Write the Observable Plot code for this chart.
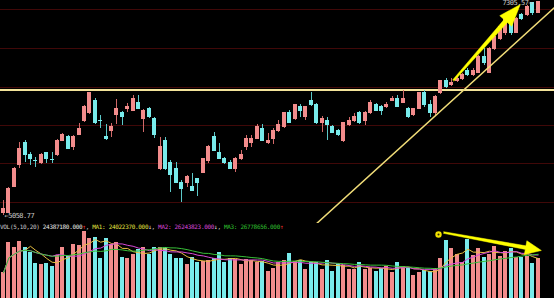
<!DOCTYPE html>
<html><head><meta charset="utf-8">
<script src="https://cdn.jsdelivr.net/npm/d3@7"></script>
<script src="https://cdn.jsdelivr.net/npm/@observablehq/plot@0.6"></script>
<style>
html,body{margin:0;padding:0;background:#000;}
#wrap{position:relative;width:554px;height:298px;overflow:hidden;background:#000;}
#wrap svg{display:block;}
#wrap svg rect, #wrap svg line{shape-rendering:crispEdges;}
#price text{letter-spacing:-0.5px;}
#hdr{position:absolute;left:0px;top:223px;height:8px;line-height:8px;font-size:6px;font-family:"DejaVu Sans Mono",monospace;letter-spacing:-0.32px;white-space:pre;color:#c8c8c8;}
</style></head><body>
<div id="wrap"><div id="price"></div><div id="vol"></div><div id="hdr"></div></div>
<script>
// ---- data ----
const opens = [5080,5090,5363,5584,5815,5699,5636,5605,5710,5641,5689,5846,5888,5773,5909,6046,6130,6266,6051,5888,5941,6119,6140,6172,6161,6245,6077,6172,6067,5552,5846,5605,5542,5405,5405,5353,5437,5510,5636,5888,5720,5657,5605,5552,5647,5783,5825,5867,5972,5815,5867,5941,5983,6140,6077,6203,6088,6256,6224,6025,6056,5983,5941,5846,6004,6056,6140,6046,6130,6224,6193,6193,6266,6287,6245,6182,6109,6182,6350,6214,6130,6340,6476,6424,6466,6497,6581,6529,6560,6718,6560,6812,6917,6970,7127,6980,7159,7159,7285,7190];
const closes = [5132,5342,5552,5762,5689,5657,5636,5699,5647,5641,5846,5909,5762,5888,5972,6203,6340,6025,6051,5857,5993,6172,6088,6203,6287,6182,6161,6088,5909,5783,5552,5489,5405,5332,5468,5321,5405,5647,5773,5741,5657,5605,5552,5657,5699,5867,5857,5993,5846,5846,5951,6014,6130,6035,6214,6151,6193,6214,6025,6077,6014,5930,5899,6025,6056,6098,6035,6140,6245,6161,6161,6214,6287,6203,6287,6088,6172,6340,6214,6130,6298,6466,6403,6455,6497,6529,6529,6581,6718,6665,6812,6938,7043,7138,6970,7117,7127,7243,7180,7300];
const highs = [5216,5353,5563,5825,5846,5720,5668,5710,5720,5720,5857,5920,5899,5899,6025,6214,6350,6287,6109,6014,6025,6277,6151,6235,6319,6319,6172,6193,6088,5878,5878,5636,5615,5426,5479,5500,5447,5657,5794,5930,5815,5668,5636,5668,5741,5899,5899,6014,6014,5920,5972,6056,6140,6161,6224,6224,6203,6350,6235,6098,6088,6004,5962,6035,6088,6130,6151,6151,6266,6235,6214,6245,6308,6319,6371,6193,6182,6350,6371,6266,6319,6476,6497,6497,6529,6550,6602,6602,6739,6812,6823,6959,7064,7159,7159,7138,7180,7264,7295,7305.57];
const lows = [5058.77,5080,5353,5552,5615,5584,5563,5594,5605,5605,5678,5836,5752,5741,5899,6035,6119,6014,5972,5846,5878,6014,6004,6140,6151,6172,5930,6077,5867,5531,5531,5300,5395,5195,5353,5321,5258,5500,5605,5731,5647,5594,5552,5510,5636,5741,5773,5857,5836,5804,5804,5930,5972,6025,6056,6088,6056,6203,6014,5930,5846,5920,5888,5825,5993,6035,6014,6004,6119,6151,6109,6182,6256,6193,6235,6077,6098,6172,6193,6088,6109,6329,6392,6413,6455,6476,6518,6518,6550,6634,6550,6791,6896,6949,6949,6970,7106,7148,7159,7180];
// volume in millions of shares
const volumes = [15.55,33.70,31.04,34.49,31.04,27.65,20.99,20.57,20.99,19.54,26.02,31.04,25.59,32.49,32.07,40.54,36.30,37.09,24.38,36.12,32.49,33.70,24.99,24.02,26.44,29.65,31.04,26.44,31.04,31.04,31.04,26.44,24.38,24.38,20.39,24.99,21.60,22.39,22.99,24.02,27.65,21.60,24.38,23.60,20.39,23.60,22.99,21.60,22.39,16.34,17.97,21.96,22.99,27.04,22.39,22.99,17.55,21.60,21.96,17.55,22.99,16.34,20.99,19.97,17.55,17.55,21.96,17.55,18.33,16.34,17.97,19.54,15.55,21.96,19.54,18.94,13.92,15.55,16.94,16.34,17.97,24.02,35.09,30.07,26.44,21.96,35.70,26.02,30.07,24.99,26.44,31.64,25.59,28.44,30.07,24.99,24.99,25.59,20.99,24.39];
const gridPrices = [7221.6, 6812.0, 6407.9, 6003.7, 5599.5, 5195.3];
const levelPrices = [6372];
const trendLine = [{i: 56, p: 4872}, {i: 104, p: 7343}];
const upArrow = [{i: 83.3, p: 6476}, {i: 95.7, p: 7274}];
const volArrow = [{i: 81.5, p: 39.94}, {i: 99.6, p: 29.04}];
const volSignal = [{i: 80.56, p: 38.73}];
const headerLabels = ["VOL(5,10,20)", "MA1", "MA2", "MA3"];
const headerValues = [24387180, 24022370, 26243823, 26778656];
const headerTrend = ["↑", "↓", "↓", "↑"];

// ---- colours ----
const UP = "#f28c8c", DN = "#78ebeb", WUP = "#d06868", WDN = "#5cc8c8";
const MA_COL = ["#e8c040", "#d848d8", "#38c038"];

const candles = opens.map((o, i) => ({i, o, c: closes[i], h: highs[i], l: lows[i], v: volumes[i], up: closes[i] > o}));
const xDom = [-0.5556, 102.037];
const pDom = [4974.8, 7316.07];
const vDom = [0, 45.386];

function arrowPoly(pts, xs, ys, w0, w1, headLen, headHalf) {
  const [a, b] = pts;
  const ax = xs.apply(a.i), ay = ys.apply(a.p), tx = xs.apply(b.i), ty = ys.apply(b.p);
  const L = Math.hypot(tx - ax, ty - ay), ux = (tx - ax) / L, uy = (ty - ay) / L;
  const nx = -uy, ny = ux;
  const bx = tx - ux * headLen, by = ty - uy * headLen;
  const poly = [
    [ax + nx * w0, ay + ny * w0], [bx + nx * w1, by + ny * w1], [bx + nx * headHalf, by + ny * headHalf],
    [tx, ty],
    [bx - nx * headHalf, by - ny * headHalf], [bx - nx * w1, by - ny * w1], [ax - nx * w0, ay - ny * w0]
  ];
  return poly.map(([px, py]) => ({i: xs.invert(px), p: ys.invert(py)}));
}

const xsP = Plot.scale({x: {domain: xDom, range: [0, 554]}});
const ysP = Plot.scale({y: {domain: pDom, range: [223, 0]}});
const ysV = Plot.scale({y: {domain: vDom, range: [75, 0]}});

const hi = candles.reduce((a, b) => (b.h > a.h ? b : a));
const lo = candles.reduce((a, b) => (b.l < a.l ? b : a));

const pricePlot = Plot.plot({
  width: 554, height: 223, margin: 0,
  x: {domain: xDom, axis: null},
  y: {domain: pDom, axis: null},
  color: {type: "identity"},
  style: {background: "#000", overflow: "hidden"},
  marks: [
    Plot.ruleY(gridPrices, {stroke: "#400808"}),
    Plot.ruleY([pDom[0]], {stroke: "#7a1414", dy: -0.5}),
    Plot.ruleY(levelPrices, {stroke: "#f3e39a", strokeWidth: 2}),
    Plot.ruleX(candles, {x: "i", y1: "l", y2: "h", stroke: d => d.up ? WUP : WDN}),
    Plot.rect(candles, {x1: d => d.i - 0.37, x2: d => d.i + 0.37, y1: "o", y2: "c", fill: d => d.up ? UP : DN, insetTop: -0.5, insetBottom: -0.5}),
    Plot.line(trendLine, {x: "i", y: "p", stroke: "#f0dc78", strokeWidth: 1.5, clip: true}),
    Plot.line(arrowPoly(upArrow, xsP, ysP, 0.9, 2.2, 22, 8), {x: "i", y: "p", fill: "#ffff00", stroke: "#ffff00", strokeWidth: 0.5}),
    Plot.text([lo], {x: "i", y: "l", text: d => "←" + d.l.toFixed(2), textAnchor: "start", dx: 1, fill: "#c8c8c8", fontSize: 7, fontFamily: "DejaVu Sans Mono"}),
    Plot.text([hi], {x: "i", y: "h", text: d => d.h.toFixed(2) + "→", textAnchor: "end", dx: -6, dy: 1, fill: "#c8c8c8", fontSize: 7, fontFamily: "DejaVu Sans Mono"})
  ]
});
document.getElementById("price").appendChild(pricePlot);

const volPlot = Plot.plot({
  width: 554, height: 75, margin: 0,
  x: {domain: xDom, axis: null},
  y: {domain: vDom, axis: null},
  color: {type: "identity"},
  style: {background: "#000", overflow: "hidden"},
  marks: [
    Plot.rect(candles, {x1: d => d.i - 0.37, x2: d => d.i + 0.37, y1: 0, y2: "v", fill: d => d.up ? UP : DN}),
    Plot.lineY(candles, Plot.windowY({k: 5, anchor: "end"}, {x: "i", y: "v", stroke: MA_COL[0], strokeWidth: 1})),
    Plot.lineY(candles, Plot.windowY({k: 10, anchor: "end"}, {x: "i", y: "v", stroke: MA_COL[1], strokeWidth: 1})),
    Plot.lineY(candles, Plot.windowY({k: 20, anchor: "end"}, {x: "i", y: "v", stroke: MA_COL[2], strokeWidth: 1})),
    Plot.line(arrowPoly(volArrow, xsP, ysV, 0.8, 1.8, 16, 7), {x: "i", y: "p", fill: "#ffff00", stroke: "#ffff00", strokeWidth: 0.5}),
    Plot.dot(volSignal, {x: "i", y: "p", r: 3.2, fill: "#f0e000", stroke: "none"}),
    Plot.dot(volSignal, {x: "i", y: "p", r: 1, fill: "#302800", stroke: "none"})
  ]
});
document.getElementById("vol").appendChild(volPlot);

// header line of the volume panel
const hdr = document.getElementById("hdr");
const trendCol = t => (t === "↑" ? "#ff3030" : "#e0e0e0");
const parts = [
  [headerLabels[0] + " ", "#c8c8c8"], [headerValues[0].toFixed(3), "#e8e8e8"], [headerTrend[0], trendCol(headerTrend[0])], [", ", "#c8c8c8"],
  [headerLabels[1] + ": " + headerValues[1].toFixed(3), "#e0e040"], [headerTrend[1], trendCol(headerTrend[1])], [", ", "#c8c8c8"],
  [headerLabels[2] + ": " + headerValues[2].toFixed(3), "#d848d8"], [headerTrend[2], trendCol(headerTrend[2])], [", ", "#c8c8c8"],
  [headerLabels[3] + ": " + headerValues[3].toFixed(3), "#30c030"], [headerTrend[3], trendCol(headerTrend[3])]
];
for (const [t, c] of parts) {
  const s = document.createElement("span");
  s.textContent = t; s.style.color = c;
  hdr.appendChild(s);
}
</script>
</body></html>
